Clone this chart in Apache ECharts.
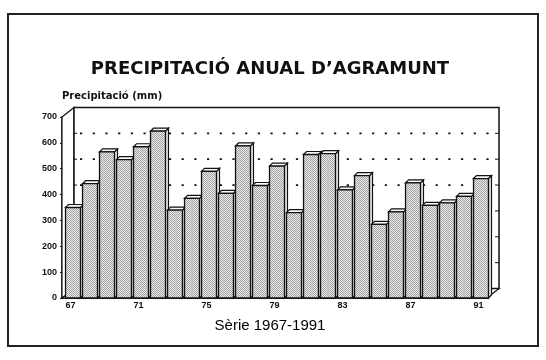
<!DOCTYPE html>
<html>
<head>
<meta charset="utf-8">
<script src="https://cdn.jsdelivr.net/npm/echarts@6/dist/echarts.min.js"></script>
<style>
html,body{margin:0;padding:0;background:#fff;}
#c{width:546px;height:360px;}
</style>
</head>
<body>
<div id="c"></div>
<script>
// ---- data ----
var years = ['67','68','69','70','71','72','73','74','75','76','77','78','79','80','81','82','83','84','85','86','87','88','89','90','91'];
var precip = [350, 442, 565, 535, 585, 645, 340, 385, 490, 405, 588, 435, 510, 330, 555, 558, 418, 473, 285, 333, 445, 358, 368, 393, 462];
var yTicks = [0, 100, 200, 300, 400, 500, 600, 700];
var wallGridValues = [400, 500, 600];
var titleText = 'PRECIPITACIÓ ANUAL D\u2019AGRAMUNT';
var yAxisTitle = 'Precipitació (mm)';
var subTitle = 'Sèrie 1967-1991';

// ---- style ----
var FONT = '"Liberation Sans", Arial, sans-serif';
var WIDE = '"DejaVu Sans", sans-serif';
var WALL_DX = 12, WALL_DY = -9.5;
var BAR_DX = 3, BAR_DY = -3;
var BAR_SHIFT = 2.5;
var INK = '#111';

function makePattern(){
  var c = document.createElement('canvas');
  c.width = 2; c.height = 2;
  var g = c.getContext('2d');
  g.fillStyle = '#ebebeb'; g.fillRect(0,0,2,2);
  g.fillStyle = '#a2a2a2'; g.fillRect(0,0,1,1); g.fillRect(1,1,1,1);
  return c;
}
var pattern = {image: makePattern(), repeat: 'repeat'};

var chart = echarts.init(document.getElementById('c'), null, {renderer:'canvas'});

function frameRender(params, api){
  var cs = params.coordSys;
  var x0 = cs.x, y0 = cs.y, x1 = cs.x + cs.width, y1 = cs.y + cs.height;
  var dx = WALL_DX, dy = WALL_DY;
  var children = [];
  // floor
  children.push({type:'polygon', shape:{points:[[x0,y1],[x1,y1],[x1+dx,y1+dy],[x0+dx,y1+dy]]},
    style:{fill:'#fff', stroke:INK, lineWidth:1.2}});
  // left side wall
  children.push({type:'polygon', shape:{points:[[x0,y0],[x0+dx,y0+dy],[x0+dx,y1+dy],[x0,y1]]},
    style:{fill:'#fff', stroke:INK, lineWidth:1.2}});
  // back wall
  children.push({type:'rect', shape:{x:x0+dx, y:y0+dy, width:cs.width, height:cs.height},
    style:{fill:'#fff', stroke:INK, lineWidth:1.5}});
  // dotted grid lines on back wall
  wallGridValues.forEach(function(v){
    var y = api.coord([0, v])[1] + dy;
    children.push({type:'line', shape:{x1:x0+dx+6, y1:y, x2:x1+dx, y2:y},
      style:{stroke:INK, lineWidth:1.8, lineDash:[2.2,10.5]}});
  });
  // small ticks on the wall edges
  yTicks.forEach(function(v){
    if (v === 0 || v === 700) return;
    var y = api.coord([0, v])[1] + dy;
    children.push({type:'line', shape:{x1:x0+dx-1, y1:y, x2:x0+dx+3, y2:y}, style:{stroke:INK, lineWidth:1}});
    children.push({type:'line', shape:{x1:x1+dx-4, y1:y, x2:x1+dx, y2:y}, style:{stroke:INK, lineWidth:1}});
  });
  return {type:'group', children:children};
}

function barRender(params, api){
  var idx = api.value(0);
  var val = api.value(1);
  var top = api.coord([idx, val]);
  var base = api.coord([idx, 0]);
  var band = api.size([1, 0])[0];
  var w = band * 0.88;
  var xl = top[0] - w/2 + BAR_SHIFT, xr = xl + w;
  var yt = top[1], yb = base[1];
  var dx = BAR_DX, dy = BAR_DY;
  return {type:'group', children:[
    {type:'polygon', shape:{points:[[xr,yt],[xr+dx,yt+dy],[xr+dx,yb+dy],[xr,yb]]},
      style:{fill:'#f0f0f0', stroke:INK, lineWidth:1.2}},
    {type:'polygon', shape:{points:[[xl,yt],[xl+dx,yt+dy],[xr+dx,yt+dy],[xr,yt]]},
      style:{fill:'#fafafa', stroke:INK, lineWidth:1.2}},
    {type:'rect', shape:{x:xl, y:yt, width:w, height:yb-yt},
      style:{fill:pattern, stroke:INK, lineWidth:1.3}}
  ]};
}

var barData = precip.map(function(v, i){ return [i, v]; });

chart.setOption({
  animation:false,
  backgroundColor:'#fff',
  grid:{left:62, right:59, top:117, bottom:62},
  xAxis:{
    type:'category', data:years,
    axisLine:{show:true, lineStyle:{color:INK, width:1.5}},
    axisTick:{show:false},
    axisLabel:{interval:3, color:INK, fontFamily:FONT, fontWeight:'bold', fontSize:9, margin:3}
  },
  yAxis:{
    type:'value', min:0, max:700, interval:100,
    name:yAxisTitle, nameLocation:'end', nameGap:16,
    nameTextStyle:{color:INK, fontFamily:WIDE, fontWeight:'bold', fontSize:10, align:'left', padding:[0,0,0,0]},
    axisLine:{show:true, lineStyle:{color:INK, width:1.5}},
    axisTick:{show:true, length:2, lineStyle:{color:INK}},
    splitLine:{show:false},
    axisLabel:{color:INK, fontFamily:FONT, fontWeight:'bold', fontSize:9, margin:5}
  },
  series:[
    {type:'custom', renderItem:frameRender, data:[[0,0]], z:1, silent:true, clip:false},
    {type:'custom', renderItem:barRender, data:barData, z:3, encode:{x:0, y:1}, clip:false}
  ],
  graphic:[
    {type:'rect', shape:{x:8, y:14, width:530, height:332}, style:{fill:'none', stroke:'#222', lineWidth:2}, z:0},
    {type:'text', x:270, y:69, style:{text:titleText, fill:INK, font:'bold 18px '+WIDE, textAlign:'center', textVerticalAlign:'middle'}},
    {type:'text', x:270, y:326, style:{text:subTitle, fill:'#000', font:'15px '+FONT, textAlign:'center', textVerticalAlign:'middle'}}
  ]
});
</script>
</body>
</html>
